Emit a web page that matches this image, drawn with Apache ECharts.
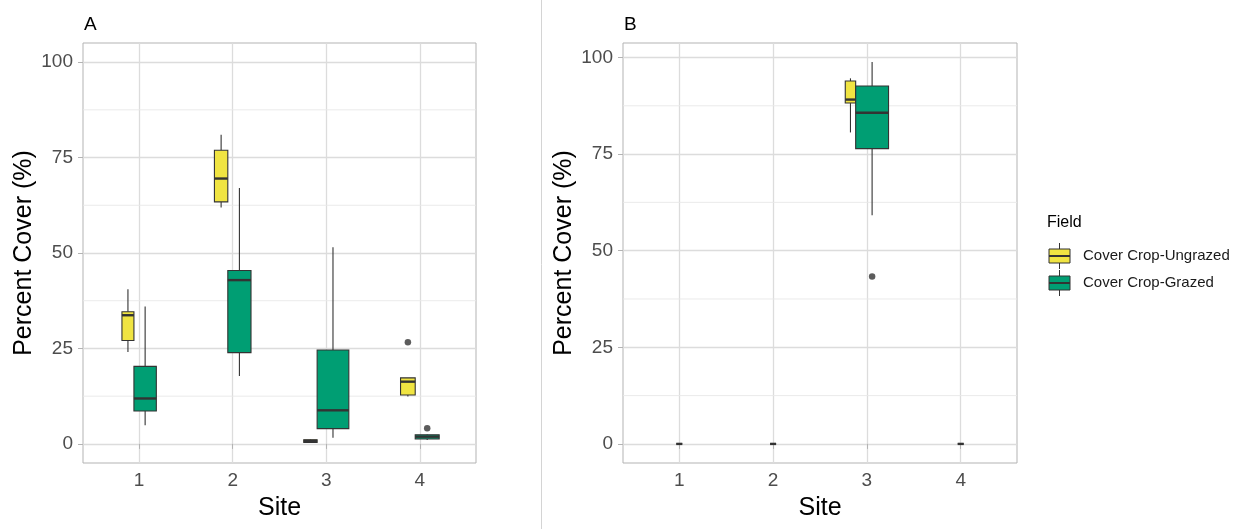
<!DOCTYPE html>
<html>
<head>
<meta charset="utf-8">
<script src="https://cdn.jsdelivr.net/npm/echarts@6/dist/echarts.min.js"></script>
<style>
  html, body { margin: 0; padding: 0; background: #fff; }
  #chart { width: 1246px; height: 529px; }
</style>
</head>
<body>
<div id="chart"></div>
<script>
// ---- data -------------------------------------------------------------
const sites = [1, 2, 3, 4];
const siteLabels = ['1', '2', '3', '4'];
const groups = ['Cover Crop-Ungrazed', 'Cover Crop-Grazed'];
const yTickValues = [0, 25, 50, 75, 100];
const yMinorValues = [12.5, 37.5, 62.5, 87.5];

// Five-number summaries per site: [lower whisker, Q1, median, Q3, upper whisker]
const coverA_ungrazed = [
  [24.1, 27.1, 33.7, 34.6, 40.5],
  [61.9, 63.4, 69.5, 76.9, 81.0],
  [0.3, 0.4, 0.8, 1.1, 1.2],
  [12.4, 12.8, 16.3, 17.3, 17.3]
];
const coverA_grazed = [
  [4.9, 8.6, 11.9, 20.3, 36.0],
  [17.8, 23.9, 42.9, 45.4, 67.0],
  [1.6, 4.0, 8.8, 24.6, 51.5],
  [1.0, 1.3, 1.9, 2.4, 2.5]
];
const nA_ungrazed = [4, 5, 5, 6];
const nA_grazed = [14, 15, 28, 16];
const outliersA_ungrazed = [[4, 26.6]];
const outliersA_grazed = [[4, 4.1]];

const coverB_ungrazed = [null, null, [80.6, 88.2, 89.1, 93.9, 94.6], null];
const coverB_grazed = [
  [0, 0, 0, 0, 0],
  [0, 0, 0, 0, 0],
  [59.2, 76.4, 85.7, 92.6, 98.8],
  [0, 0, 0, 0, 0]
];
const nB_ungrazed = [0, 0, 3, 0];
const nB_grazed = [1, 1, 30, 1];
const outliersB_ungrazed = [];
const outliersB_grazed = [[3, 43.3]];

// ---- styling / layout --------------------------------------------------
const COLORS = ['#F0E442', '#009E73'];
const INK = '#333333';
const FONT = '"Liberation Sans", Arial, sans-serif';
const BOX_UNIT = 0.064; // box width (x units) per sqrt(sample size)

// Side-by-side placement: boxes at a site are packed next to each other,
// widths scaled by sqrt(n), and the pack is centred on the site.
function layoutPanel(stats, counts) {
  const centers = stats.map(() => []);
  const widths = stats.map(() => []);
  sites.forEach((s, i) => {
    const w = stats.map((st, g) => (st[i] && counts[g][i] > 0) ? BOX_UNIT * Math.sqrt(counts[g][i]) : 0);
    const total = w.reduce((a, b) => a + b, 0);
    let left = s - total / 2;
    w.forEach((wg, g) => { widths[g][i] = wg; centers[g][i] = left + wg / 2; left += wg; });
  });
  return { centers, widths };
}

function renderBox(params, api) {
  const x = api.value(0);
  const lo = api.coord([x, api.value(1)]);
  const q1 = api.coord([x, api.value(2)]);
  const md = api.coord([x, api.value(3)]);
  const q3 = api.coord([x, api.value(4)]);
  const hi = api.coord([x, api.value(5)]);
  const half = api.size([api.value(6), 0])[0] / 2;
  const cx = q1[0];
  const fill = api.visual('color');
  return {
    type: 'group',
    children: [
      { type: 'line', shape: { x1: cx, y1: hi[1], x2: cx, y2: q3[1] }, style: { stroke: INK, lineWidth: 1.1 } },
      { type: 'line', shape: { x1: cx, y1: q1[1], x2: cx, y2: lo[1] }, style: { stroke: INK, lineWidth: 1.1 } },
      { type: 'rect', shape: { x: cx - half, y: q3[1], width: 2 * half, height: q1[1] - q3[1] },
        style: { fill: fill, stroke: INK, lineWidth: 1.1 } },
      { type: 'line', shape: { x1: cx - half, y1: md[1], x2: cx + half, y2: md[1] }, style: { stroke: INK, lineWidth: 2.4 } }
    ]
  };
}

// minor horizontal grid line across the whole plotting area
function renderMinorGrid(params, api) {
  const y = api.coord([0.4, api.value(0)])[1];
  const cs = params.coordSys;
  return {
    type: 'line', silent: true,
    shape: { x1: cs.x, y1: y, x2: cs.x + cs.width, y2: y },
    style: { stroke: '#e8e8e8', lineWidth: 0.9 }
  };
}

function panelSeries(panelIdx, stats, counts, outliers) {
  const lay = layoutPanel(stats, counts);
  const out = [];
  out.push({
    type: 'custom', xAxisIndex: panelIdx, yAxisIndex: panelIdx, z: 1, silent: true,
    renderItem: renderMinorGrid, encode: { y: 0 },
    data: yMinorValues.map(v => [v])
  });
  stats.forEach((st, g) => {
    const data = [];
    st.forEach((row, i) => {
      if (row && counts[g][i] > 0) data.push([lay.centers[g][i], ...row, lay.widths[g][i]]);
    });
    out.push({
      type: 'custom', name: groups[g], xAxisIndex: panelIdx, yAxisIndex: panelIdx, z: 3,
      itemStyle: { color: COLORS[g] },
      renderItem: renderBox,
      encode: { x: 0, y: [1, 2, 3, 4, 5] },
      data: data
    });
    out.push({
      type: 'scatter', xAxisIndex: panelIdx, yAxisIndex: panelIdx, z: 4,
      symbol: 'circle', symbolSize: 6.5, itemStyle: { color: INK },
      data: outliers[g].map(([s, v]) => [lay.centers[g][s - 1], v])
    });
  });
  return out;
}

function xAxisFor(gridIndex) {
  return {
    type: 'value', gridIndex: gridIndex, min: 0.4, max: 4.6,
    axisLine: { show: false },
    axisTick: { show: true, customValues: sites, length: 5, lineStyle: { color: '#b3b3b3' } },
    axisLabel: {
      customValues: sites, color: '#4d4d4d', fontSize: 19, fontFamily: FONT, margin: 8,
      formatter: v => siteLabels[sites.indexOf(v)]
    },
    splitLine: { show: true, lineStyle: { color: '#dcdcdc', width: 1.3 } },
    name: 'Site', nameLocation: 'middle', nameGap: 33,
    nameTextStyle: { fontSize: 25, color: '#000', fontFamily: FONT }
  };
}

function yAxisFor(gridIndex, min, max) {
  return {
    type: 'value', gridIndex: gridIndex, min: min, max: max,
    axisLine: { show: false },
    axisTick: { show: true, customValues: yTickValues, length: 5, lineStyle: { color: '#b3b3b3' } },
    axisLabel: { customValues: yTickValues, color: '#4d4d4d', fontSize: 19, fontFamily: FONT, margin: 10 },
    splitLine: { show: true, lineStyle: { color: '#dcdcdc', width: 1.3 } },
    name: 'Percent Cover (%)', nameLocation: 'middle', nameGap: 46, nameRotate: 90,
    nameTextStyle: { fontSize: 25, color: '#000', fontFamily: FONT }
  };
}

// legend drawn as box-plot keys
const legendGraphics = [
  { type: 'text', left: 1047, top: 215, style: { text: 'Field', font: '16px ' + FONT, fill: '#000' } }
];
groups.forEach((name, g) => {
  const cy = 256 + 27 * g;
  legendGraphics.push(
    { type: 'line', shape: { x1: 1059.5, y1: cy - 13, x2: 1059.5, y2: cy + 13 }, style: { stroke: INK, lineWidth: 1 } },
    { type: 'rect', shape: { x: 1049, y: cy - 7, width: 21, height: 14 }, style: { fill: COLORS[g], stroke: INK, lineWidth: 1 } },
    { type: 'line', shape: { x1: 1049, y1: cy, x2: 1070, y2: cy }, style: { stroke: INK, lineWidth: 2 } },
    { type: 'text', x: 1083, y: cy, style: { text: name, font: '15px ' + FONT, fill: '#1a1a1a', verticalAlign: 'middle' } }
  );
});

const chart = echarts.init(document.getElementById('chart'), null, { renderer: 'canvas' });
chart.setOption({
  animation: false,
  backgroundColor: '#fff',
  textStyle: { fontFamily: FONT },
  title: [
    { text: 'A', left: 84, top: 15, padding: 0, textStyle: { fontSize: 19, fontWeight: 'normal', color: '#000', fontFamily: FONT } },
    { text: 'B', left: 624, top: 15, padding: 0, textStyle: { fontSize: 19, fontWeight: 'normal', color: '#000', fontFamily: FONT } }
  ],
  grid: [
    { left: 83, top: 43, width: 393, height: 420, show: true, borderColor: '#b3b3b3', borderWidth: 1, backgroundColor: '#fff' },
    { left: 623, top: 43, width: 394, height: 420, show: true, borderColor: '#b3b3b3', borderWidth: 1, backgroundColor: '#fff' }
  ],
  xAxis: [xAxisFor(0), xAxisFor(1)],
  yAxis: [yAxisFor(0, -5, 105), yAxisFor(1, -4.94, 103.74)],
  series: [
    ...panelSeries(0, [coverA_ungrazed, coverA_grazed], [nA_ungrazed, nA_grazed], [outliersA_ungrazed, outliersA_grazed]),
    ...panelSeries(1, [coverB_ungrazed, coverB_grazed], [nB_ungrazed, nB_grazed], [outliersB_ungrazed, outliersB_grazed])
  ],
  graphic: [
    { type: 'line', shape: { x1: 541.5, y1: 0, x2: 541.5, y2: 529 }, style: { stroke: '#d4d4d4', lineWidth: 1 } },
    ...legendGraphics
  ]
});
</script>
</body>
</html>
